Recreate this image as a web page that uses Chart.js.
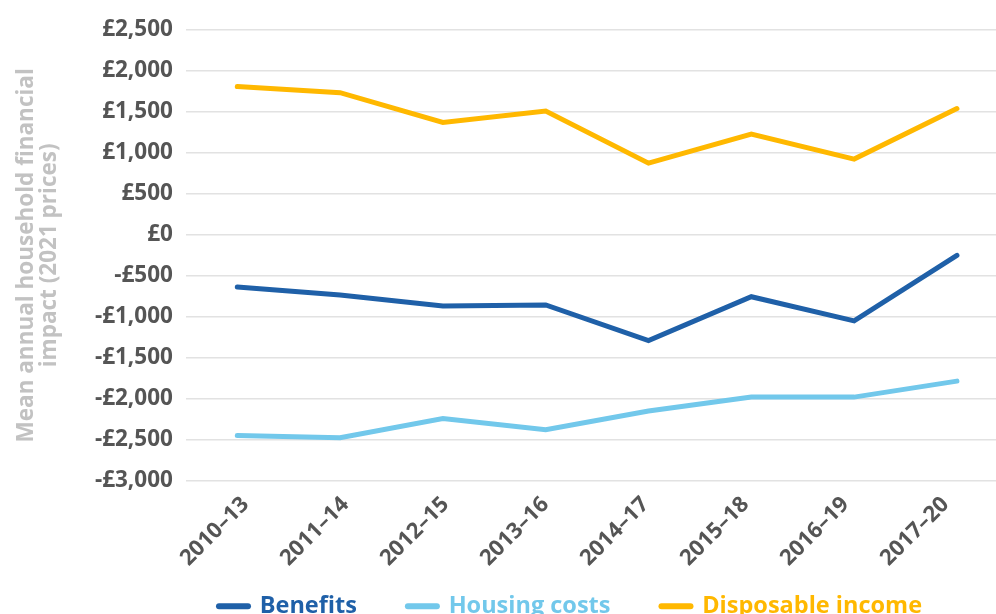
<!DOCTYPE html>
<html lang="en">
<head>
    <meta charset="UTF-8">
    <title>Household financial impact</title>
    <script src="https://cdn.jsdelivr.net/npm/chart.js"></script>
    <style>
        html, body {
            margin: 0;
            padding: 0;
            background: #fff;
            overflow: hidden;
        }
        #chartContainer {
            width: 996px;
            height: 659px;
        }
    </style>
</head>
<body>
    <div id="chartContainer">
        <canvas id="impactChart"></canvas>
    </div>

    <script>
        const periods = ['2010–13', '2011–14', '2012–15', '2013–16', '2014–17', '2015–18', '2016–19', '2017–20'];
        const benefits = [-635, -735, -868, -855, -1290, -755, -1050, -250];
        const housingCosts = [-2450, -2475, -2242, -2377, -2150, -1980, -1980, -1785];
        const disposableIncome = [1810, 1735, 1372, 1512, 875, 1231, 925, 1542];
        const yTicks = [2500, 2000, 1500, 1000, 500, 0, -500, -1000, -1500, -2000, -2500, -3000];

        const FONT = "'Open Sans', sans-serif";
        const TICK_COLOR = '#555555';

        function toPoints(values) {
            return values.map((v, i) => ({ x: i, y: v }));
        }

        function formatPounds(v) {
            const s = '£' + Math.abs(v).toLocaleString('en-GB');
            return v < 0 ? '-' + s : s;
        }

        function lineDataset(label, values, color) {
            return {
                label: label,
                data: toPoints(values),
                xAxisID: 'x',
                borderColor: color,
                backgroundColor: color,
                borderWidth: 5,
                borderCapStyle: 'round',
                borderJoinStyle: 'miter',
                pointRadius: 0,
                pointHoverRadius: 0,
                tension: 0
            };
        }

        // move the legend under the middle of the lines and closer to the axis labels
        const legendShift = {
            id: 'legendShift',
            afterLayout(chart) {
                const dx = 65, dy = -31;
                chart.legend.left += dx;
                chart.legend.right += dx;
                chart.legend.top += dy;
                chart.legend.bottom += dy;
            }
        };

        const ctx = document.getElementById('impactChart').getContext('2d');

        new Chart(ctx, {
            type: 'line',
            data: {
                datasets: [
                    lineDataset('Benefits', benefits, '#1f60a8'),
                    lineDataset('Housing costs', housingCosts, '#72c8eb'),
                    lineDataset('Disposable income', disposableIncome, '#ffb800')
                ]
            },
            options: {
                responsive: true,
                maintainAspectRatio: false,
                animation: false,
                layout: {
                    padding: { top: 30, left: 15, right: 0, bottom: 0 }
                },
                scales: {
                    // positions of the lines
                    x: {
                        type: 'linear',
                        min: -0.5,
                        max: 7.38,
                        display: false
                    },
                    // period labels, spaced a little tighter than the points
                    xLabels: {
                        type: 'linear',
                        position: 'bottom',
                        min: -0.595,
                        max: 7.505,
                        grid: { display: false },
                        border: { display: false },
                        ticks: {
                            stepSize: 1,
                            includeBounds: false,
                            autoSkip: false,
                            minRotation: 45,
                            maxRotation: 45,
                            padding: 3,
                            color: TICK_COLOR,
                            font: { family: FONT, size: 22, weight: 'bold' },
                            callback: value => periods[value] ?? ''
                        }
                    },
                    y: {
                        min: -3000,
                        max: 2500,
                        grid: {
                            color: '#e2e2e2',
                            lineWidth: 1.5,
                            drawTicks: false
                        },
                        border: { display: false },
                        afterBuildTicks: axis => {
                            axis.ticks = yTicks.map(v => ({ value: v }));
                        },
                        ticks: {
                            padding: 13,
                            color: TICK_COLOR,
                            font: { family: FONT, size: 22.5, weight: 'bold' },
                            callback: value => formatPounds(value)
                        },
                        title: {
                            display: true,
                            text: ['Mean annual household financial', 'impact (2021 prices)'],
                            color: '#c2c2c2',
                            font: { family: FONT, size: 22.5, weight: 'bold', lineHeight: 1.02 },
                            padding: { top: 0, bottom: 21 }
                        }
                    }
                },
                plugins: {
                    legend: {
                        position: 'bottom',
                        labels: {
                            usePointStyle: true,
                            pointStyle: 'line',
                            pointStyleWidth: 29,
                            padding: 51,
                            font: { family: FONT, size: 23.5, weight: 'bold' },
                            generateLabels: chart => {
                                const items = Chart.defaults.plugins.legend.labels.generateLabels(chart);
                                items.forEach(item => {
                                    item.fontColor = item.strokeStyle;
                                    item.lineWidth = 6;
                                    item.lineCap = 'round';
                                });
                                return items;
                            }
                        }
                    },
                    tooltip: { enabled: false }
                }
            },
            plugins: [legendShift]
        });
    </script>
</body>
</html>
